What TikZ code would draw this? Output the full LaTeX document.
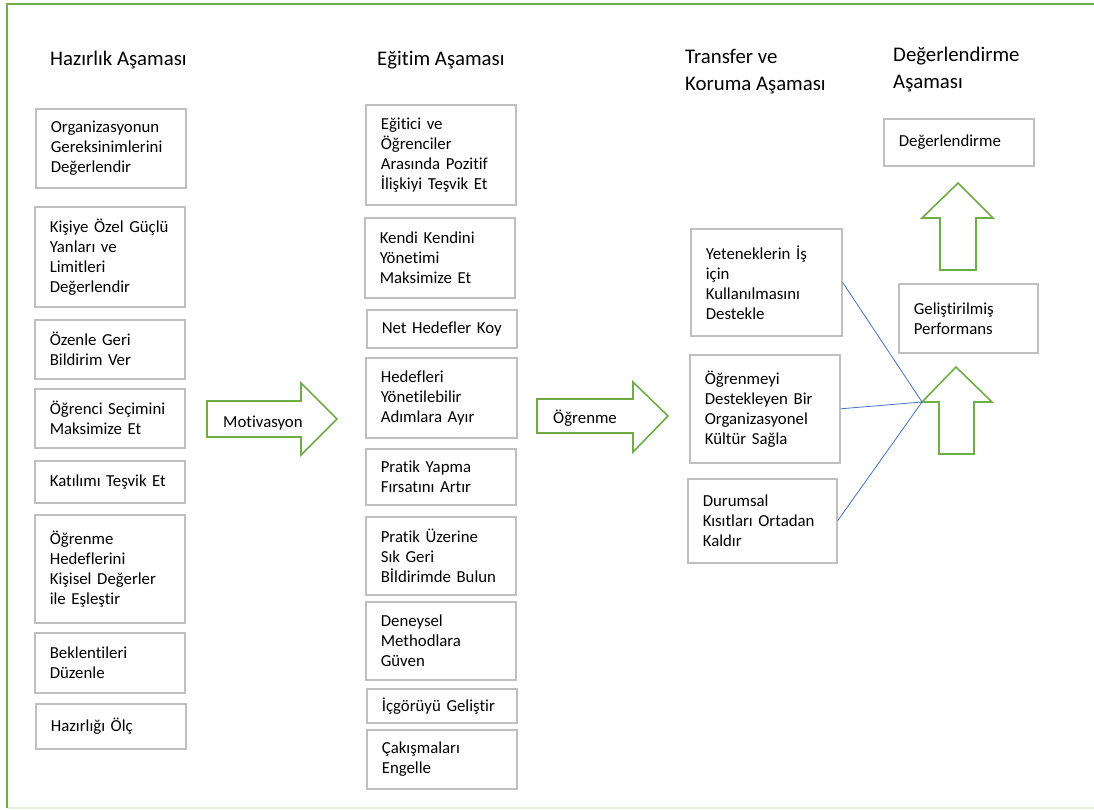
\documentclass[tikz,border=0pt]{standalone}
\usepackage{fontspec}
\setmainfont{Carlito}[Ligatures=NoCommon]
\definecolor{framegreen}{HTML}{70AD47}
\definecolor{framelight}{HTML}{E2EFDA}
\definecolor{boxgray}{HTML}{BFBFBF}
\definecolor{linkblue}{HTML}{4472C4}
\newcommand\boxfont{\fontsize{16.8}{20}\selectfont}
\newcommand\headfont{\fontsize{20.8}{27}\selectfont}
\begin{document}
\begin{tikzpicture}[x=1pt,y=-1pt,
  box/.style={draw=boxgray, line width=1.6pt, anchor=north west,
    inner xsep=15pt, inner ysep=0pt, align=left, font=\boxfont, text=black},
  heading/.style={anchor=base west, inner sep=0pt, align=left, font=\headfont},
  blockarrow/.style={draw=framegreen, line width=1.6pt, line join=miter},
  arrowlabel/.style={anchor=base west, inner sep=0pt, font=\boxfont},
  link/.style={draw=linkblue, line width=0.8pt}]

% page and frame
\useasboundingbox (0,0) rectangle (1094,809);
\fill[white] (0,0) rectangle (1094,809);
\draw[framelight, line width=1.5pt] (7,808) -- (1094,808);
\draw[framegreen, line width=2pt] (7,808) -- (7,4) -- (1094,4);

% phase headings (base anchor sits on the last line)
\node[heading] (h1) at (50,65) {Hazırlık Aşaması};
\node[heading] (h2) at (377,65) {Eğitim Aşaması};
\node[heading] (h3) at (685,90) {Transfer ve\\Koruma Aşaması};
\node[heading] (h4) at (893,88) {Değerlendirme\\Aşaması};

% preparation phase
\node[box, text width=120pt, minimum height=79pt]  (L1) at (35,108) {Organizasyonun\\Gereksinimlerini\\Değerlendir};
\node[box, text width=120pt, minimum height=100pt] (L2) at (34,206) {Kişiye~Özel~Güçlü\\Yanları~ve\\Limitleri\\Değerlendir};
\node[box, text width=120pt, minimum height=59pt]  (L3) at (34,319) {Özenle~Geri\\Bildirim~Ver};
\node[box, text width=120pt, minimum height=59pt]  (L4) at (34,388) {Öğrenci~Seçimini\\Maksimize~Et};
\node[box, text width=120pt, minimum height=42pt]  (L5) at (34,460) {Katılımı~Teşvik~Et};
\node[box, text width=120pt, minimum height=108pt] (L6) at (34,514) {Öğrenme\\Hedeflerini\\Kişisel~Değerler\\ile~Eşleştir};
\node[box, text width=120pt, minimum height=60pt]  (L7) at (34,632) {Beklentileri\\Düzenle};
\node[box, text width=120pt, minimum height=45pt]  (L8) at (35,703) {Hazırlığı~Ölç};

% training phase
\node[box, text width=120pt, minimum height=100pt] (M1) at (365,104) {Eğitici~ve\\Öğrenciler\\Arasında~Pozitif\\İlişkiyi~Teşvik~Et};
\node[box, text width=120pt, minimum height=80pt]  (M2) at (364,217) {Kendi~Kendini\\Yönetimi\\Maksimize~Et};
\node[box, text width=120pt, minimum height=38pt]  (M3) at (366,309) {Net~Hedefler~Koy};
\node[box, text width=121pt, minimum height=80pt]  (M4) at (365,357) {Hedefleri\\Yönetilebilir\\Adımlara~Ayır};
\node[box, text width=120pt, minimum height=56pt]  (M5) at (365,448) {Pratik~Yapma\\Fırsatını~Artır};
\node[box, text width=120pt, minimum height=78pt]  (M6) at (365,516) {Pratik~Üzerine\\Sık~Geri\\Bİldirimde~Bulun};
\node[box, text width=120pt, minimum height=78pt]  (M7) at (365,601) {Deneysel\\Methodlara\\Güven};
\node[box, text width=120pt, minimum height=34pt]  (M8) at (366,688) {İçgörüyü~Geliştir};
\node[box, text width=120pt, minimum height=59pt]  (M9) at (366,729) {Çakışmaları\\Engelle};

% transfer and maintenance phase
\node[box, text width=121pt, minimum height=107pt] (T1) at (690,228) {Yeteneklerin~İş\\için\\Kullanılmasını\\Destekle};
\node[box, text width=120pt, minimum height=108pt] (T2) at (689,354) {Öğrenmeyi\\Destekleyen~Bir\\Organizasyonel\\Kültür~Sağla};
\node[box, text width=119pt, minimum height=84pt]  (T3) at (687,478) {Durumsal\\Kısıtları~Ortadan\\Kaldır};

% evaluation phase
\node[box, text width=120pt, minimum height=47pt]  (R1) at (883,118) {Değerlendirme};
\node[box, text width=109pt, minimum height=69pt]  (R2) at (898,283) {Geliştirilmiş\\Performans};

% block arrows between phases
\draw[blockarrow] (207,401) -- (301,401) -- (301,383) -- (337,419) -- (301,455) -- (301,437) -- (207,437) -- cycle;
\node[arrowlabel] (motiv) at (223,427) {Motivasyon};
\draw[blockarrow] (537,399) -- (633,399) -- (633,382) -- (668,416) -- (633,452) -- (633,433) -- (537,433) -- cycle;
\node[arrowlabel] (learn) at (553,423) {Öğrenme};

% upward arrows in the evaluation phase
\draw[blockarrow] (958,183) -- (993,218) -- (976,218) -- (976,270) -- (940,270) -- (940,218) -- (922,218) -- cycle;
\draw[blockarrow] (956,367) -- (992,402) -- (974,402) -- (974,454) -- (939,454) -- (939,402) -- (922,402) -- cycle;

% transfer boxes converge on the performance arrow
\coordinate (conv) at (922,402);
\draw[link] (T1.east) -- (conv);
\draw[link] (T2.east) -- (conv);
\draw[link] (T3.east) -- (conv);
\end{tikzpicture}
\end{document}
